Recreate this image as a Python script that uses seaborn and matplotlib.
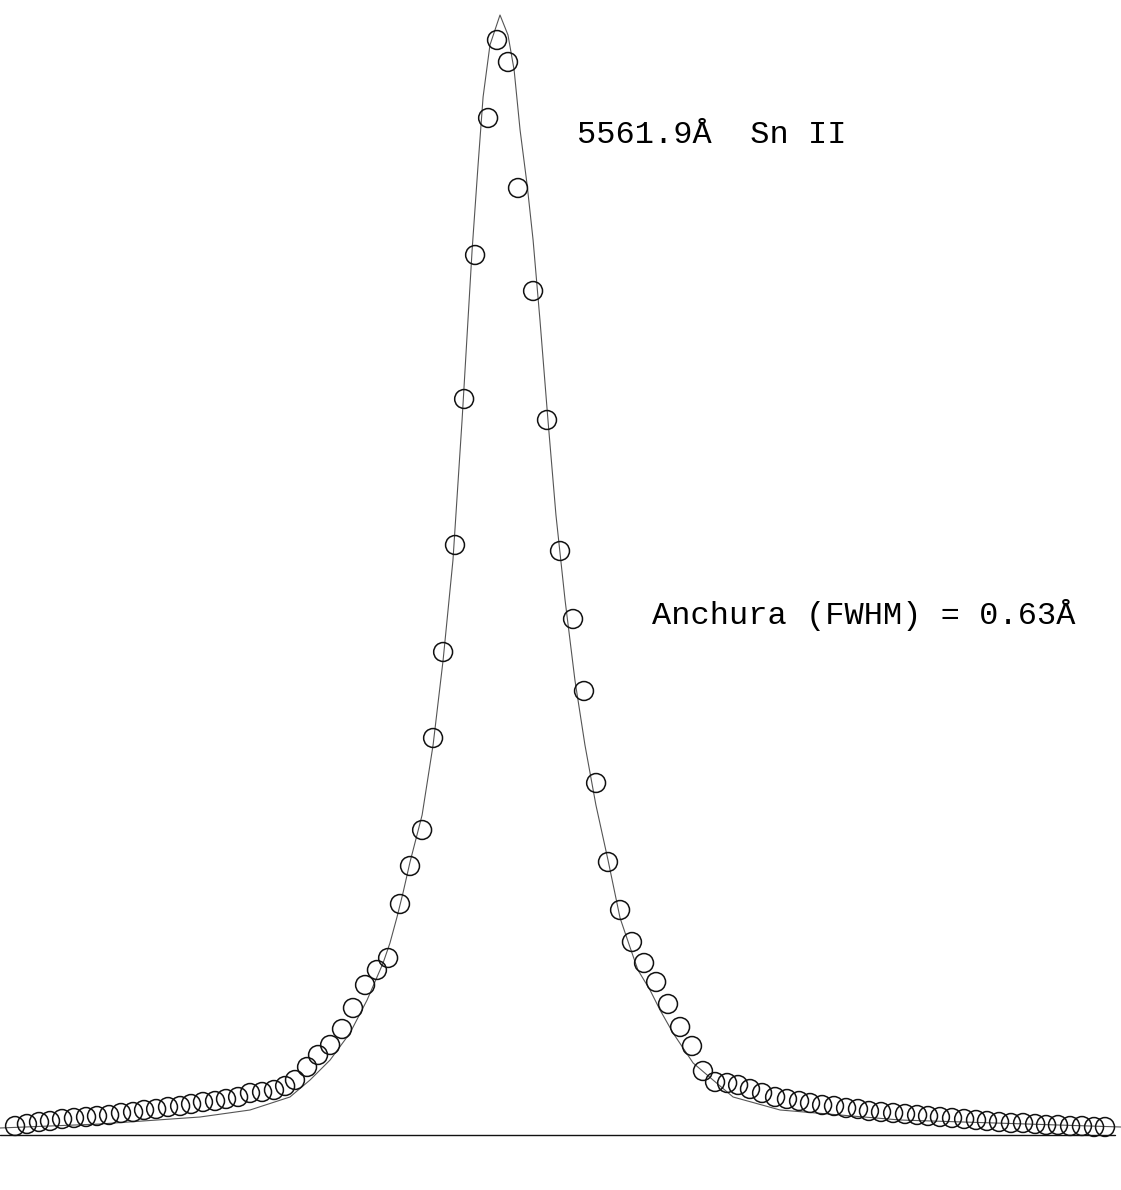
import matplotlib
matplotlib.use("Agg")
import matplotlib.pyplot as plt
import seaborn as sns
import pandas as pd

# measured profile (wavelength offset from 5561.9 A, counts)
obs_dlam = [-2.620, -2.556, -2.491, -2.432, -2.367, -2.303, -2.238, -2.179, -2.114, -2.050,
            -1.985, -1.926, -1.861, -1.797, -1.732, -1.673, -1.609, -1.544, -1.485, -1.420,
            -1.356, -1.291, -1.227, -1.167, -1.114, -1.049, -0.990, -0.925, -0.861, -0.802,
            -0.737, -0.673, -0.613, -0.549, -0.495, -0.430, -0.371, -0.317, -0.253, -0.204,
            -0.145, -0.075, -0.027, 0.032, 0.086, 0.167, 0.242, 0.312, 0.382, 0.441,
            0.506, 0.570, 0.635, 0.699, 0.764, 0.829, 0.893, 0.958, 1.022, 1.081,
            1.146, 1.211, 1.270, 1.334, 1.399, 1.469, 1.533, 1.598, 1.657, 1.722,
            1.786, 1.851, 1.915, 1.974, 2.039, 2.104, 2.168, 2.233, 2.292, 2.356,
            2.421, 2.486, 2.550, 2.609, 2.674, 2.738, 2.803, 2.868, 2.927, 2.991,
            3.056, 3.120, 3.185, 3.244]
obs_counts = [9, 11, 13, 14, 16, 17, 18, 19, 20, 22,
              23, 25, 26, 28, 29, 31, 33, 34, 36, 38,
              42, 43, 45, 49, 55, 68, 80, 90, 106, 127,
              150, 165, 177, 231, 269, 305, 397, 483, 590, 736,
              880, 1017, 1095, 1073, 947, 844, 715, 584, 516, 444,
              352, 273, 225, 193, 172, 153, 131, 108, 89, 64,
              53, 52, 50, 46, 42, 38, 36, 34, 32, 30,
              29, 27, 26, 24, 23, 22, 21, 20, 19, 18,
              17, 16, 15, 14, 13, 12, 12, 11, 10, 10,
              9, 9, 8, 8]

# fitted profile
fit_dlam = [-2.701, -2.163, -1.625, -1.356, -1.141, -1.033, -0.925, -0.818, -0.726, -0.640,
            -0.603, -0.565, -0.533, -0.495, -0.430, -0.371, -0.317, -0.264, -0.215, -0.161,
            -0.129, -0.102, -0.065, -0.011, 0.032, 0.065, 0.097, 0.135, 0.167, 0.204,
            0.247, 0.290, 0.339, 0.392, 0.446, 0.505, 0.570, 0.635, 0.688, 0.731,
            0.796, 0.850, 0.920, 1.028, 1.135, 1.243, 1.496, 2.141, 3.330]
fit_counts = [7, 11, 18, 25, 38, 55, 75, 102, 135, 172,
              192, 218, 242, 273, 320, 390, 475, 575, 715, 885,
              970, 1038, 1090, 1120, 1100, 1065, 1005, 950, 895, 815,
              715, 620, 535, 455, 390, 330, 275, 217, 188, 165,
              145, 125, 102, 72, 55, 38, 25, 15, 8]

line_label = "5561.9Å  Sn II"
width_label = "Anchura (FWHM) = 0.63Å"

sns.set_style("white")
plt.rcParams["font.family"] = ["Liberation Mono", "DejaVu Sans Mono"]

obs = pd.DataFrame({"dlam": obs_dlam, "counts": obs_counts})
fit = pd.DataFrame({"dlam": fit_dlam, "counts": fit_counts})

fig = plt.figure(figsize=(11.21, 11.90), dpi=100)
ax = fig.add_axes([0, 0, 1, 1])

sns.lineplot(data=fit, x="dlam", y="counts", ax=ax, color="#555555",
             linewidth=0.8, zorder=2)
sns.scatterplot(data=obs, x="dlam", y="counts", ax=ax, marker="o", s=185,
                facecolor="none", edgecolor="#111111", linewidth=1.1, zorder=3)

ax.axhline(0, xmin=0.0, xmax=0.995, color="#111111", linewidth=1.0)

ax.text(0.403, 1000, line_label, fontsize=23, va="center", ha="left", color="black")
ax.text(0.807, 520, width_label, fontsize=23, va="center", ha="left", color="black")

ax.set_xlim(-2.701, 3.330)
ax.set_ylim(-55, 1135)
ax.set_axis_off()

fig.savefig("out.png", dpi=100)
